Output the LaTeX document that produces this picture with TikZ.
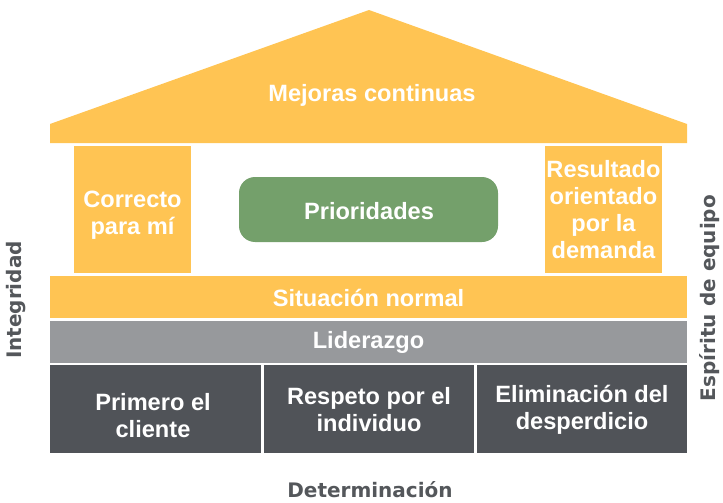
\documentclass[tikz,border=0pt]{standalone}
\usepackage{fontspec}
\setmainfont{Liberation Sans}
\newfontfamily\sidefont{DejaVu Sans}
\definecolor{roofyellow}{HTML}{FFC453}
\definecolor{prioGreen}{HTML}{74A06B}
\definecolor{barGrey}{HTML}{97999C}
\definecolor{baseDark}{HTML}{505358}
\definecolor{labelGrey}{HTML}{54575B}
\tikzset{
  blk/.style={draw=none, inner sep=0pt, outer sep=0pt, anchor=north west},
  boxtext/.style={text=white, font=\bfseries\fontsize{23.6}{27}\selectfont, align=center, inner sep=0pt},
  sidetext/.style={text=labelGrey, font=\sidefont\bfseries\fontsize{20}{24}\selectfont, inner sep=0pt}
}
\begin{document}
\begin{tikzpicture}[x=1pt,y=-1pt]
\useasboundingbox (0,0) rectangle (723,503);
% roof
\fill[roofyellow] (50,124) -- (369,10) -- (687,124) -- (687,143) -- (50,143) -- cycle;
\node[boxtext, anchor=base] (roof) at (372,102) {Mejoras continuas};
% pillars
\node[blk, fill=roofyellow, minimum width=117pt, minimum height=127pt] (lpillar) at (74,146) {};
\node[blk, fill=roofyellow, minimum width=117pt, minimum height=127pt] (rpillar) at (545,146) {};
\node[boxtext] (ltext) at (132.5,215) {Correcto\\para mí};
\node[boxtext] (rtext) at (603.5,210) {Resultado\\orientado\\por la\\demanda};
% priorities
\node[blk, fill=prioGreen, rounded corners=16pt, minimum width=259pt, minimum height=65pt] (prio) at (239,177) {};
\node[boxtext] (priotext) at (369,211) {Prioridades};
% bars
\node[blk, fill=roofyellow, minimum width=637pt, minimum height=42pt] (situ) at (50,276) {};
\node[boxtext] (situtext) at (368.5,297.5) {Situación normal};
\node[blk, fill=barGrey, minimum width=637pt, minimum height=42pt] (lid) at (50,321) {};
\node[boxtext] (lidtext) at (368.5,342.5) {Liderazgo};
% base boxes
\node[blk, fill=baseDark, minimum width=211pt, minimum height=88pt] (b1) at (50,365) {};
\node[blk, fill=baseDark, minimum width=210pt, minimum height=88pt] (b2) at (264,365) {};
\node[blk, fill=baseDark, minimum width=210pt, minimum height=88pt] (b3) at (477,365) {};
\node[boxtext] (b1text) at (153,416) {Primero el\\cliente};
\node[boxtext] (b2text) at (369,410) {Respeto por el\\individuo};
\node[boxtext] (b3text) at (582,410) {Eliminación del\\desperdicio};
% side labels
\node[sidetext, rotate=90] (integ) at (16,300) {Integridad};
\node[sidetext, rotate=90] (equipo) at (710,298) {Espíritu de equipo};
\node[sidetext, anchor=base] (determ) at (370,497) {Determinación};
\end{tikzpicture}
\end{document}
